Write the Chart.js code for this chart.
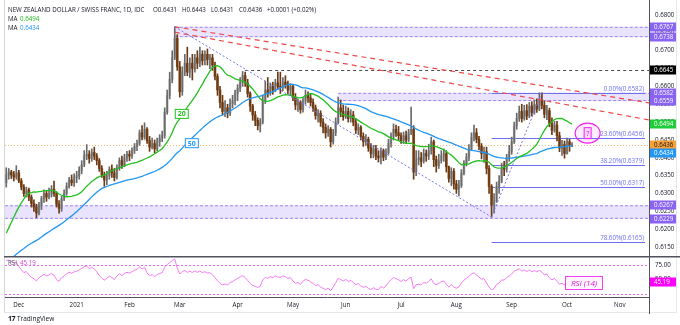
<!DOCTYPE html>
<html>
<head>
<meta charset="utf-8">
<script src="https://cdn.jsdelivr.net/npm/chart.js@4.4.1/dist/chart.umd.min.js"></script>
<style>
  html, body { margin: 0; padding: 0; background: #fff; }
  body { width: 680px; height: 325px; overflow: hidden; font-family: "Open Sans", "Liberation Sans", sans-serif; }
  #wrap { position: relative; width: 680px; height: 325px; }
  canvas { position: absolute; left: 0; }
  #main { top: 0; }
  #rsi { top: 256px; }
  .txt { position: absolute; white-space: pre; font-size: 6.2px; color: #131722; line-height: 8px; }
  #frame { position: absolute; left: 4px; top: 0; width: 673px; height: 313px; border-left: 1px solid #d6d8de; border-right: 1px solid #e6e7eb; border-bottom: 1px solid #e6e7eb; box-sizing: border-box; }
  #logo { position: absolute; left: 8px; top: 314px; font-size: 6.5px; color: #131722; }
  #logo b { font-size: 7px; letter-spacing: -0.5px; margin-right: 2px; }
</style>
</head>
<body>
<div id="wrap">
  <div id="frame"></div>
  <canvas id="main" width="680" height="256"></canvas>
  <canvas id="rsi" width="680" height="58"></canvas>
  <div class="txt" style="left:8px;top:6px;">NEW ZEALAND DOLLAR / SWISS FRANC, 1D, IDC</div>
  <div class="txt" style="left:153px;top:6px;">O0.6431</div>
  <div class="txt" style="left:182px;top:6px;">H0.6443</div>
  <div class="txt" style="left:211px;top:6px;">L0.6431</div>
  <div class="txt" style="left:239px;top:6px;">C0.6436</div>
  <div class="txt" style="left:267px;top:6px;">+0.0001 (+0.02%)</div>
  <div class="txt" style="left:8px;top:15px;">MA</div>
  <div class="txt" style="left:20px;top:15px;color:#22c01f">0.6494</div>
  <div class="txt" style="left:8px;top:24px;">MA</div>
  <div class="txt" style="left:20px;top:24px;color:#2196f3">0.6434</div>
  <div class="txt" style="left:8px;top:259px;color:#50535e">RSI</div>
  <div class="txt" style="left:20px;top:259px;color:#e040e0">45.19</div>
  <div id="logo"><b>17</b>TradingView</div>
</div>
<script>
// NZD/CHF daily candles, 24 Nov 2020 – 5 Oct 2021 (prices in 1/10000)
const earlierCloses = [
  6025, 6037, 6050, 6063, 6055, 6047, 6040, 6033, 6045, 6057,
  6065, 6053, 6043, 6035, 6030, 6047, 6060, 6067, 6075, 6063,
  6051, 6043, 6035, 6047, 6055, 6063, 6057, 6045, 6040, 6047,
  6060, 6052, 6048, 6058, 6070, 6078, 6085, 6100,
  6185, 6230, 6215, 6258, 6245, 6270, 6262, 6290, 6280, 6310, 6325
];

const opens = [
  6330, 6352, 6360, 6352, 6346,
  6358, 6335, 6318, 6300, 6310, 6290, 6272, 6262, 6245, 6268, 6285, 6300, 6290, 6298, 6312, 6300, 6270, 6258, 6285, 6300, 6320, 6338, 6330,
  6345, 6350, 6365, 6380, 6405, 6410, 6398, 6415, 6405, 6392, 6370, 6352, 6338, 6350, 6368, 6358, 6345, 6372, 6392, 6380, 6400,
  6410, 6405, 6420, 6432, 6440, 6470, 6458, 6480, 6448, 6430, 6440, 6425, 6445, 6455, 6462, 6528, 6575, 6620, 6680, 6735,
  6655, 6585, 6640, 6665, 6640, 6665, 6650, 6680, 6665, 6690, 6672, 6690, 6675, 6680, 6660, 6628, 6590, 6555, 6530, 6540, 6525, 6552, 6560,
  6580, 6595, 6612, 6630, 6610, 6580, 6545, 6520, 6505, 6490, 6500, 6560, 6590, 6580, 6600, 6590, 6610, 6600, 6598, 6612, 6605, 6590,
  6600, 6570, 6548, 6555, 6535, 6560, 6575, 6568, 6555, 6540, 6518, 6525, 6500, 6485, 6470, 6480, 6445, 6470, 6500, 6540, 6530,
  6515, 6530, 6510, 6520, 6500, 6478, 6485, 6460, 6445, 6452, 6428, 6412, 6425, 6405, 6400, 6420, 6402, 6415, 6440, 6460, 6480, 6470,
  6462, 6448, 6462, 6450, 6470, 6480, 6360, 6395, 6400, 6390, 6412, 6405, 6420, 6445, 6395, 6378, 6392, 6405, 6412, 6375, 6342, 6362,
  6327, 6312, 6322, 6357, 6384, 6402, 6424, 6457, 6470, 6452, 6432, 6412, 6417, 6370, 6320, 6268, 6280, 6320, 6335, 6370, 6368, 6400,
  6418, 6445, 6490, 6510, 6530, 6510, 6532, 6517, 6545, 6527, 6549, 6537, 6562, 6547, 6522, 6532, 6497, 6477, 6492, 6462, 6427, 6437,
  6412, 6445, 6431
];
const highs = [
  6372, 6370, 6365, 6362, 6378,
  6365, 6342, 6325, 6318, 6315, 6296, 6282, 6270, 6275, 6292, 6310, 6308, 6315, 6322, 6335, 6305, 6280, 6292, 6310, 6330, 6345, 6352, 6355,
  6362, 6375, 6392, 6420, 6437, 6420, 6425, 6430, 6412, 6398, 6378, 6360, 6362, 6375, 6380, 6370, 6380, 6400, 6405, 6410, 6418,
  6420, 6428, 6440, 6450, 6478, 6490, 6498, 6485, 6460, 6455, 6450, 6455, 6465, 6475, 6540, 6590, 6640, 6700, 6767, 6745,
  6670, 6655, 6690, 6710, 6680, 6690, 6690, 6700, 6710, 6700, 6700, 6705, 6690, 6690, 6668, 6635, 6600, 6575, 6560, 6550, 6565, 6575, 6590,
  6605, 6625, 6642, 6640, 6620, 6585, 6550, 6530, 6512, 6510, 6575, 6615, 6625, 6610, 6612, 6620, 6640, 6640, 6625, 6630, 6615, 6608,
  6605, 6580, 6565, 6560, 6568, 6590, 6585, 6578, 6565, 6548, 6535, 6532, 6510, 6495, 6490, 6485, 6480, 6512, 6570, 6562, 6548,
  6545, 6540, 6535, 6530, 6510, 6495, 6490, 6470, 6465, 6458, 6440, 6435, 6435, 6420, 6428, 6425, 6425, 6452, 6470, 6495, 6492, 6488,
  6470, 6472, 6475, 6480, 6542, 6490, 6420, 6420, 6415, 6425, 6422, 6438, 6458, 6450, 6405, 6410, 6420, 6425, 6420, 6377, 6372, 6370,
  6337, 6337, 6367, 6392, 6412, 6437, 6470, 6492, 6482, 6460, 6440, 6430, 6430, 6378, 6325, 6300, 6332, 6350, 6385, 6390, 6410, 6435,
  6458, 6500, 6525, 6545, 6550, 6547, 6549, 6555, 6557, 6562, 6565, 6582, 6582, 6559, 6547, 6539, 6512, 6502, 6502, 6472, 6449, 6447,
  6455, 6452, 6443
];
const lows = [
  6318, 6340, 6342, 6335, 6340,
  6330, 6310, 6292, 6290, 6280, 6262, 6250, 6232, 6240, 6255, 6275, 6278, 6285, 6290, 6292, 6262, 6245, 6250, 6280, 6295, 6315, 6322, 6320,
  6330, 6340, 6355, 6375, 6395, 6385, 6390, 6395, 6380, 6362, 6345, 6320, 6325, 6340, 6345, 6335, 6340, 6365, 6370, 6375, 6390,
  6392, 6398, 6412, 6420, 6435, 6450, 6452, 6440, 6418, 6425, 6413, 6420, 6432, 6445, 6455, 6522, 6565, 6610, 6675, 6645,
  6570, 6575, 6630, 6630, 6625, 6618, 6640, 6650, 6655, 6660, 6660, 6660, 6650, 6645, 6618, 6575, 6540, 6520, 6515, 6512, 6518, 6540, 6548,
  6560, 6585, 6600, 6600, 6570, 6530, 6505, 6490, 6478, 6472, 6495, 6552, 6570, 6575, 6578, 6585, 6592, 6580, 6588, 6595, 6580, 6575,
  6560, 6535, 6530, 6525, 6528, 6550, 6555, 6545, 6530, 6508, 6500, 6488, 6470, 6455, 6460, 6430, 6438, 6462, 6495, 6515, 6505,
  6510, 6500, 6500, 6490, 6468, 6465, 6450, 6432, 6435, 6418, 6400, 6400, 6395, 6388, 6383, 6392, 6395, 6410, 6430, 6450, 6460, 6450,
  6440, 6440, 6440, 6445, 6465, 6340, 6350, 6380, 6375, 6385, 6390, 6395, 6410, 6375, 6360, 6370, 6385, 6390, 6360, 6332, 6322, 6312,
  6300, 6293, 6317, 6352, 6377, 6392, 6420, 6447, 6442, 6422, 6397, 6387, 6355, 6300, 6234, 6245, 6275, 6300, 6330, 6350, 6360, 6390,
  6410, 6440, 6480, 6502, 6500, 6505, 6507, 6512, 6517, 6522, 6527, 6532, 6537, 6512, 6507, 6487, 6465, 6472, 6447, 6417, 6407, 6399,
  6410, 6418, 6431
];
const closes = [
  6352, 6360, 6352, 6346, 6358,
  6335, 6318, 6300, 6310, 6290, 6272, 6262, 6245, 6268, 6285, 6300, 6290, 6298, 6312, 6300, 6270, 6258, 6285, 6300, 6320, 6338, 6330, 6345,
  6350, 6365, 6380, 6405, 6410, 6398, 6415, 6405, 6392, 6370, 6352, 6338, 6350, 6368, 6358, 6345, 6372, 6392, 6380, 6400, 6410,
  6405, 6420, 6432, 6440, 6470, 6458, 6480, 6448, 6430, 6440, 6425, 6445, 6455, 6462, 6528, 6575, 6620, 6680, 6735, 6655,
  6585, 6640, 6665, 6640, 6665, 6650, 6680, 6665, 6690, 6672, 6690, 6675, 6680, 6660, 6628, 6590, 6555, 6530, 6540, 6525, 6552, 6560, 6580,
  6595, 6612, 6630, 6610, 6580, 6545, 6520, 6505, 6490, 6500, 6560, 6590, 6580, 6600, 6590, 6610, 6600, 6598, 6612, 6605, 6590, 6600,
  6570, 6548, 6555, 6535, 6560, 6575, 6568, 6555, 6540, 6518, 6525, 6500, 6485, 6470, 6480, 6445, 6470, 6500, 6540, 6530, 6515,
  6530, 6510, 6520, 6500, 6478, 6485, 6460, 6445, 6452, 6428, 6412, 6425, 6405, 6400, 6420, 6402, 6415, 6440, 6460, 6480, 6470, 6462,
  6448, 6462, 6450, 6470, 6480, 6360, 6395, 6400, 6390, 6412, 6405, 6420, 6445, 6395, 6378, 6392, 6405, 6412, 6375, 6342, 6362, 6327,
  6312, 6322, 6357, 6384, 6402, 6424, 6457, 6470, 6452, 6432, 6412, 6417, 6370, 6320, 6268, 6280, 6320, 6335, 6370, 6368, 6400, 6418,
  6445, 6490, 6510, 6530, 6510, 6532, 6517, 6545, 6527, 6549, 6537, 6562, 6547, 6522, 6532, 6497, 6477, 6492, 6462, 6427, 6437, 6412,
  6445, 6435, 6436
];

// month labels along the time axis (bar index of each month's first session)
const monthLabels = ['Dec', '2021', 'Feb', 'Mar', 'Apr', 'May', 'Jun', 'Jul', 'Aug', 'Sep', 'Oct', 'Nov'];
const monthStarts = [5, 28, 49, 69, 92, 114, 135, 157, 179, 201, 223, 244];
const priceTicks = [0.6150, 0.6200, 0.6250, 0.6300, 0.6350, 0.6400, 0.6450, 0.6500, 0.6550, 0.6600, 0.6650, 0.6700, 0.6750, 0.6800];
const rsiTicks = [50, 75];

// drawing tools
const zones = [
  { lo: 0.6738, hi: 0.6767, from: 67 },
  { lo: 0.6559, hi: 0.6582, from: 132 },
  { lo: 0.6229, hi: 0.6267, from: null }
];
const fibFrom = 193;
const fibLevels = [0.6582, 0.6456, 0.6379, 0.6317, 0.6165];
const fibNames = ['0.00%', '23.60%', '38.20%', '50.00%', '78.60%'];
const resistanceLevel = { price: 0.6645, from: 95 };
const redTrends = [
  [[67, 0.6767], [255.6, 0.6554]],
  [[67, 0.6752], [255.6, 0.6506]]
];
const blueTrends = [
  [[67, 0.6767], [193, 0.6234]],
  [[193, 0.6234], [213, 0.6582]]
];
const axisTags = [
  { v: 0.6767, bg: '#8a63f2', fg: '#fff' },
  { v: 0.6738, bg: '#8a63f2', fg: '#fff' },
  { v: 0.6645, bg: '#000000', fg: '#fff' },
  { v: 0.6582, bg: '#8a63f2', fg: '#fff' },
  { v: 0.6559, bg: '#8a63f2', fg: '#fff' },
  { v: 0.6494, bg: '#1fcc3a', fg: '#fff' },
  { v: 0.6436, bg: '#f7a139', fg: '#131722' },
  { v: 0.6434, bg: '#2196f3', fg: '#fff' },
  { v: 0.6267, bg: '#8a63f2', fg: '#fff' },
  { v: 0.6229, bg: '#8a63f2', fg: '#fff' }
];
const lastPrice = 0.6436;
const rsiNow = 45.19;

// ---------- series prep ----------
const P = v => v / 10000;
const allCloses = earlierCloses.concat(closes).map(P);
const off = earlierCloses.length;

function sma(n) {
  const out = [];
  for (let i = 0; i < closes.length; i++) {
    const end = off + i;
    let s = 0;
    for (let k = end - n + 1; k <= end; k++) s += allCloses[k];
    out.push({ x: i, y: s / n });
  }
  return out;
}
function rsi(n) {
  let ag = 0, al = 0;
  for (let k = 1; k <= n; k++) {
    const d = allCloses[k] - allCloses[k - 1];
    ag += Math.max(d, 0); al += Math.max(-d, 0);
  }
  ag /= n; al /= n;
  const vals = new Array(allCloses.length).fill(null);
  vals[n] = 100 - 100 / (1 + ag / al);
  for (let k = n + 1; k < allCloses.length; k++) {
    const d = allCloses[k] - allCloses[k - 1];
    ag = (ag * (n - 1) + Math.max(d, 0)) / n;
    al = (al * (n - 1) + Math.max(-d, 0)) / n;
    vals[k] = 100 - 100 / (1 + ag / al);
  }
  return closes.map((_, i) => ({ x: i, y: vals[off + i] }));
}

const ma20 = sma(20), ma50 = sma(50), rsi14 = rsi(14);

const upBody = '#b4b4b4', upWick = '#6a6a6a', dnBody = '#8e4f1f', dnWick = '#6a3a15';
const wickPts = closes.map((c, i) => ({ x: i, y: [P(lows[i]), P(highs[i])] }));
const bodyPts = closes.map((c, i) => ({ x: i, y: [P(opens[i]), P(c)] }));
const isUp = closes.map((c, i) => c >= opens[i]);

const FONT = { family: '"Open Sans", "Liberation Sans", sans-serif', size: 6.2 };
const INK = '#131722';

// keep the plot area flush with the canvas edges (no room reserved for edge labels)
function noEdgePadding(s) { s.paddingTop = 0; s.paddingBottom = 0; s.paddingLeft = 0; s.paddingRight = 0; }

function line(ctx, x0, y0, x1, y1) { ctx.beginPath(); ctx.moveTo(x0, y0); ctx.lineTo(x1, y1); ctx.stroke(); }
function tag(ctx, y, text, bg, fg, left) {
  ctx.fillStyle = bg;
  ctx.fillRect(left + 1, Math.round(y) - 4.5, 26, 9);
  ctx.fillStyle = fg;
  ctx.font = `${FONT.size}px ${FONT.family}`;
  ctx.textBaseline = 'middle';
  ctx.textAlign = 'left';
  ctx.fillText(text, left + 5, Math.round(y) + 0.3);
}

const mainOverlay = {
  id: 'mainOverlay',
  beforeDatasetsDraw(chart) {
    const { ctx, chartArea: a, scales: { x, y } } = chart;
    ctx.save();
    ctx.beginPath(); ctx.rect(a.left, a.top, a.right - a.left, a.bottom - a.top); ctx.clip();
    zones.forEach(z => {
      const x0 = z.from == null ? a.left : x.getPixelForValue(z.from);
      const yt = y.getPixelForValue(z.hi), yb = y.getPixelForValue(z.lo);
      ctx.fillStyle = 'rgba(149, 117, 246, 0.2)';
      ctx.fillRect(x0, yt, a.right - x0, yb - yt);
      ctx.strokeStyle = '#9d86f2'; ctx.lineWidth = 1; ctx.setLineDash([3, 2]);
      line(ctx, x0, yt + 0.5, a.right, yt + 0.5);
      line(ctx, x0, yb - 0.5, a.right, yb - 0.5);
    });
    ctx.setLineDash([1, 2]); ctx.strokeStyle = '#f5b971'; ctx.lineWidth = 1;
    const yl = Math.round(y.getPixelForValue(lastPrice)) + 0.5;
    line(ctx, a.left, yl, a.right, yl);
    ctx.setLineDash([3, 3]); ctx.strokeStyle = '#4a4a4a';
    const yr = Math.round(y.getPixelForValue(resistanceLevel.price)) + 0.5;
    line(ctx, x.getPixelForValue(resistanceLevel.from), yr, a.right, yr);
    ctx.setLineDash([]); ctx.strokeStyle = '#6d6ff0'; ctx.lineWidth = 1;
    const fx = x.getPixelForValue(fibFrom);
    fibLevels.forEach((v, k) => {
      const yy = Math.round(y.getPixelForValue(v)) + 0.5;
      line(ctx, fx, yy, a.right - 4, yy);
      ctx.fillStyle = '#6d6ff0';
      ctx.font = `${FONT.size}px ${FONT.family}`;
      ctx.textAlign = 'right'; ctx.textBaseline = 'bottom';
      ctx.fillText(`${fibNames[k]}(${v.toFixed(4)})`, a.right - 5, yy - 1);
    });
    ctx.restore();
  },
  afterDatasetsDraw(chart) {
    const { ctx, chartArea: a, scales: { x, y } } = chart;
    ctx.save();
    ctx.beginPath(); ctx.rect(a.left, a.top, a.right - a.left, a.bottom - a.top); ctx.clip();
    ctx.lineWidth = 1.2; ctx.strokeStyle = '#f04848'; ctx.setLineDash([5, 4]);
    redTrends.forEach(([p, q]) => line(ctx, x.getPixelForValue(p[0]), y.getPixelForValue(p[1]), x.getPixelForValue(q[0]), y.getPixelForValue(q[1])));
    ctx.lineWidth = 1; ctx.strokeStyle = '#7474f0'; ctx.setLineDash([2, 2]);
    blueTrends.forEach(([p, q]) => line(ctx, x.getPixelForValue(p[0]), y.getPixelForValue(p[1]), x.getPixelForValue(q[0]), y.getPixelForValue(q[1])));
    ctx.setLineDash([]);
    // MA period badges
    [[69.8, 0.6523, '20', '#22c01f'], [73.8, 0.6441, '50', '#2196f3']].forEach(([i, v, t, c]) => {
      const cx = x.getPixelForValue(i), cy = y.getPixelForValue(v);
      ctx.fillStyle = '#fff'; ctx.fillRect(cx - 7, cy - 5, 14, 10);
      ctx.strokeStyle = c; ctx.lineWidth = 1; ctx.strokeRect(cx - 6.5, cy - 4.5, 13, 9);
      ctx.fillStyle = c; ctx.font = `bold 7px ${FONT.family}`;
      ctx.textAlign = 'center'; ctx.textBaseline = 'middle'; ctx.fillText(t, cx, cy + 0.5);
    });
    // question mark callout
    const ex = x.getPixelForValue(231.2), ey = y.getPixelForValue(0.6469);
    ctx.beginPath(); ctx.ellipse(ex, ey, 12.5, 10, 0, 0, Math.PI * 2);
    ctx.fillStyle = 'rgba(255, 0, 255, 0.07)'; ctx.fill();
    ctx.strokeStyle = '#f020f0'; ctx.lineWidth = 1.2; ctx.stroke();
    ctx.fillStyle = 'rgba(255, 210, 255, 0.8)'; ctx.fillRect(ex - 3.5, ey - 5.5, 7, 11);
    ctx.strokeStyle = '#f020f0'; ctx.lineWidth = 1; ctx.strokeRect(ex - 3.5, ey - 5.5, 7, 11);
    ctx.fillStyle = '#e010e0'; ctx.font = `7px ${FONT.family}`;
    ctx.textAlign = 'center'; ctx.textBaseline = 'middle'; ctx.fillText('?', ex, ey + 0.5);
    ctx.restore();
  },
  afterDraw(chart) {
    const { ctx, chartArea: a, scales: { y } } = chart;
    ctx.save();
    // price tags on the axis; a tag that would overlap the one above slides down
    let prevY = -Infinity;
    axisTags.forEach(t => {
      let ty = Math.round(y.getPixelForValue(t.v));
      if (ty < prevY + 8) ty = prevY + 8;
      tag(ctx, ty, t.v.toFixed(4), t.bg, t.fg, a.right);
      prevY = ty;
    });
    ctx.restore();
  }
};

new Chart(document.getElementById('main'), {
  type: 'bar',
  data: {
    datasets: [
      { type: 'line', data: ma20, borderColor: '#22c01f', borderWidth: 1.3, pointRadius: 0, tension: 0, order: 1 },
      { type: 'line', data: ma50, borderColor: '#2196f3', borderWidth: 1.3, pointRadius: 0, tension: 0, order: 1 },
      { data: wickPts, backgroundColor: isUp.map(u => u ? upWick : dnWick), barThickness: 1, grouped: false, order: 2 },
      { data: bodyPts, backgroundColor: isUp.map(u => u ? upBody : dnBody), barThickness: 2, minBarLength: 1, grouped: false, order: 3 }
    ]
  },
  options: {
    animation: false, responsive: false, maintainAspectRatio: false,
    layout: { padding: { left: 5, right: 0, top: 0, bottom: 0 } },
    plugins: { legend: { display: false }, tooltip: { enabled: false } },
    scales: {
      x: { type: 'linear', min: -0.5, max: 255.6, offset: false, display: false },
      y: {
        position: 'right', min: 0.61249, max: 0.68421,
        afterBuildTicks(s) { s.ticks = priceTicks.map(v => ({ value: v })); },
        afterFit(s) { s.width = 31; noEdgePadding(s); },
        grid: { display: false, drawTicks: false },
        border: { display: true, color: '#50535e', width: 1 },
        ticks: { callback: v => v.toFixed(4), font: FONT, color: INK, padding: 6 }
      }
    }
  },
  plugins: [mainOverlay]
});

const rsiOverlay = {
  id: 'rsiOverlay',
  beforeDatasetsDraw(chart) {
    const { ctx, chartArea: a, scales: { y } } = chart;
    ctx.save();
    ctx.strokeStyle = '#ee66ee'; ctx.lineWidth = 1; ctx.setLineDash([2, 2]);
    [75, 25].forEach(v => { const yy = Math.round(y.getPixelForValue(v)) + 0.5; line(ctx, a.left, yy, a.right, yy); });
    ctx.restore();
  },
  afterDraw(chart) {
    const { ctx, chartArea: a, scales: { y } } = chart;
    ctx.save();
    ctx.strokeStyle = '#50535e'; ctx.lineWidth = 1.5;
    line(ctx, 4, 0.75, chart.width, 0.75);
    ctx.lineWidth = 1;
    line(ctx, a.right + 0.5, 0, a.right + 0.5, chart.height);
    tag(ctx, y.getPixelForValue(rsiNow), rsiNow.toFixed(2), '#ff00ff', '#fff', a.right);
    // indicator name badge
    const bx = 565, byTop = Math.round(y.getPixelForValue(56));
    ctx.fillStyle = '#fff4ff'; ctx.fillRect(bx, byTop, 38, 14);
    ctx.strokeStyle = '#f040f0'; ctx.lineWidth = 1; ctx.strokeRect(bx + 0.5, byTop + 0.5, 37, 13);
    ctx.fillStyle = '#e020e0'; ctx.font = `italic 8px ${FONT.family}`;
    ctx.textAlign = 'center'; ctx.textBaseline = 'middle';
    ctx.fillText('RSI (14)', bx + 19, byTop + 7.5);
    ctx.restore();
  }
};

new Chart(document.getElementById('rsi'), {
  type: 'line',
  data: { datasets: [{ data: rsi14, borderColor: '#f57af5', borderWidth: 1, pointRadius: 0, tension: 0 }] },
  options: {
    animation: false, responsive: false, maintainAspectRatio: false,
    layout: { padding: { left: 5, right: 0, top: 0, bottom: 0 } },
    plugins: { legend: { display: false }, tooltip: { enabled: false } },
    scales: {
      x: {
        type: 'linear', min: -0.5, max: 255.6, offset: false,
        afterBuildTicks(s) { s.ticks = monthStarts.map(v => ({ value: v })); },
        afterFit(s) { s.height = 17; noEdgePadding(s); },
        grid: { display: false, drawTicks: false },
        border: { display: true, color: '#50535e', width: 1 },
        ticks: { callback: (v, i) => monthLabels[i], autoSkip: false, maxRotation: 0, font: FONT, color: INK, padding: 5 }
      },
      y: {
        position: 'right', min: 19.8, max: 90.5,
        afterBuildTicks(s) { s.ticks = rsiTicks.map(v => ({ value: v })); },
        afterFit(s) { s.width = 31; noEdgePadding(s); },
        grid: { display: false, drawTicks: false },
        border: { display: false },
        ticks: { callback: v => v.toFixed(2), font: FONT, color: INK, padding: 6 }
      }
    }
  },
  plugins: [rsiOverlay]
});
</script>
</body>
</html>
